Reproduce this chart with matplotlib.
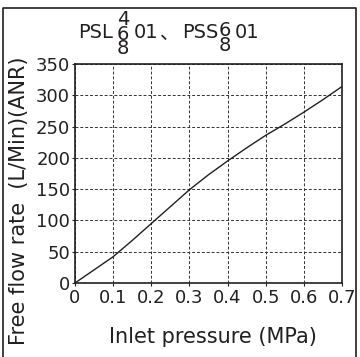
import matplotlib
matplotlib.use('Agg')
import matplotlib.pyplot as plt
from matplotlib.lines import Line2D

plt.rcParams['font.family'] = ['DejaVu Sans', 'Noto Sans CJK SC']

pressure = [0.0, 0.05, 0.1, 0.15, 0.2, 0.25, 0.3, 0.35, 0.4, 0.45, 0.5, 0.55, 0.6, 0.65, 0.7]
flow = [0, 21, 42, 68, 95, 122, 149, 173, 195, 216, 236, 254, 273, 293, 314]
xticks = [0, 0.1, 0.2, 0.3, 0.4, 0.5, 0.6, 0.7]
xticklabels = ['0', '0.1', '0.2', '0.3', '0.4', '0.5', '0.6', '0.7']
yticks = [0, 50, 100, 150, 200, 250, 300, 350]

W, H = 360, 357
ink = '#231f20'
fig = plt.figure(figsize=(W / 100, H / 100), dpi=100)
ax = fig.add_axes([75 / W, 1 - 283 / H, 267 / W, 219 / H])

ax.plot(pressure, flow, color=ink, lw=1.0)
ax.set_xlim(0, 0.7)
ax.set_ylim(0, 350)
ax.set_xticks(xticks)
ax.set_xticklabels(xticklabels)
ax.set_yticks(yticks)
ax.grid(True, ls=(0, (3, 2)), color='#333333', lw=0.7)
ax.tick_params(labelsize=13, length=2, width=0.8, pad=1.5, colors=ink)
ax.tick_params(axis='x', pad=2.5)
for s in ax.spines.values():
    s.set_linewidth(1.2)
    s.set_color(ink)

fig.text(213 / W, 1 - 343 / H, 'Inlet pressure (MPa)', fontsize=15, ha='center', va='baseline', color=ink)
fig.text(19 / W, 1 - 201 / H, 'Free flow rate  (L/Min)(ANR)', fontsize=15, rotation=90,
         ha='center', va='center', color=ink)

# title with stacked model numbers
def t(x, y, s, ha='left', ls=1.2):
    fig.text(x / W, 1 - y / H, s, fontsize=14, ha=ha, va='center', color=ink,
             linespacing=ls, multialignment='center')

t(78, 33, 'PSL')
t(123, 34, '4\n6\n8', 'center', 0.72)
t(134, 33, '01')
t(160, 33, '、')
t(182, 33, 'PSS')
t(225, 38, '6\n8', 'center', 0.75)
t(235, 33, '01')

# outer frame, open at the bottom
fx = [3 / W, 3 / W, 356 / W, 356 / W]
fy = [0, 1 - 8 / H, 1 - 8 / H, 0]
fig.add_artist(Line2D(fx, fy, transform=fig.transFigure, color=ink, lw=1.2))

fig.savefig('out.png', dpi=100)
